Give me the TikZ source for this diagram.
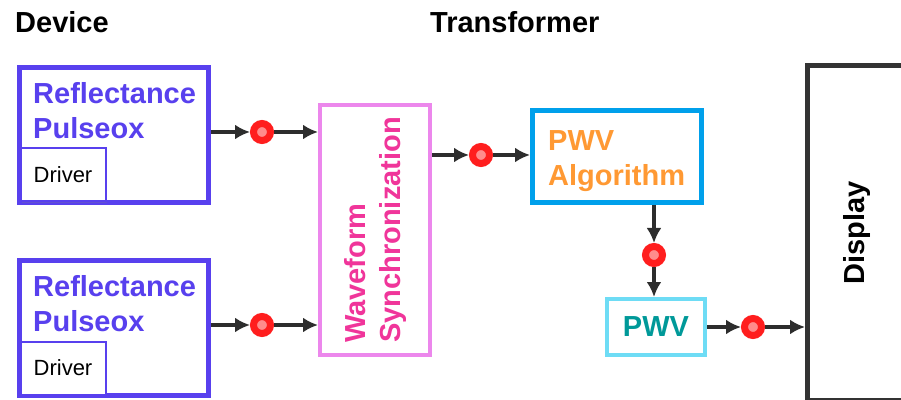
\documentclass[tikz,border=0pt]{standalone}
\usepackage{fontspec}
\setmainfont{Liberation Sans}
\usepackage{tikz}
\usetikzlibrary{arrows.meta,positioning,shadows}
\definecolor{devcol}{RGB}{88,64,238}
\definecolor{synccol}{RGB}{236,135,236}
\definecolor{synctxt}{RGB}{240,53,154}
\definecolor{algcol}{RGB}{0,160,235}
\definecolor{algtxt}{RGB}{255,153,51}
\definecolor{pwvcol}{RGB}{110,220,245}
\definecolor{pwvtxt}{RGB}{0,153,153}
\definecolor{dispcol}{RGB}{51,51,51}
\definecolor{arrcol}{RGB}{45,45,45}
\definecolor{probered}{RGB}{255,30,30}
\definecolor{probepink}{RGB}{255,140,140}

\begin{document}
\begin{tikzpicture}[
  x=1pt,y=1pt,
  every node/.style={font=\fontsize{29}{35}\selectfont\bfseries,inner sep=0pt},
  blk/.style={draw,fill=white,drop shadow={opacity=.25,shadow xshift=1.5pt,shadow yshift=-1.5pt}},
  dev/.style={blk,draw=devcol,line width=5pt,minimum width=189pt,minimum height=135pt},
  drv/.style={blk,draw=devcol,line width=2pt,minimum width=85pt,minimum height=53pt,
    font=\fontsize{22}{26}\selectfont,anchor=south west},
  devtext/.style={text=devcol,align=left,anchor=north west},
  probe/.style={circle,draw=probered,fill=probepink,line width=7pt,minimum size=17pt},
  arr/.style={-{Latex[length=15pt,width=15pt]},line width=3.5pt,draw=arrcol}
]
\clip (0,0) rectangle (901,399);
\node[anchor=base west] (device) at (15,366) {Device};
\node[anchor=base west] (transformer) at (430,366) {Transformer};
\node[dev] (pulse1) at (114,264) {};
\node[drv] (drv1) at ([shift={(2.5pt,2.5pt)}]pulse1.south west) {Driver};
\node[devtext] (refl1) at (33,317) {Reflectance\\Pulseox};
\node[dev] (pulse2) at (114,71) {};
\node[drv] (drv2) at ([shift={(2.5pt,2.5pt)}]pulse2.south west) {Driver};
\node[devtext] (refl2) at (33,124) {Reflectance\\Pulseox};
\node[blk,draw=synccol,line width=4pt,minimum width=110pt,minimum height=250pt] (sync) at (375,169) {};
\node[rotate=90,align=left,text=synctxt] (synctext) at (sync) {Waveform\\Synchronization};
\node[blk,draw=algcol,line width=5pt,minimum width=169pt,minimum height=92pt] (alg) at (617,242.5) {};
\node[text=algtxt,align=left,anchor=north west] (algtext) at (548,269) {PWV\\Algorithm};
\node[blk,draw=pwvcol,line width=4pt,minimum width=98pt,minimum height=56pt,text=pwvtxt] (pwv) at (656,72) {PWV};
\node[blk,draw=dispcol,line width=5pt,minimum width=98pt,minimum height=335pt] (disp) at (856.5,166) {};
\node[rotate=90] (disptext) at (disp) {Display};
\node[probe] (dot1) at (262,267) {};
\node[probe] (dot2) at (262,74) {};
\node[probe] (dot3) at (481,244) {};
\node[probe] (dot4) at (654,144) {};
\node[probe] (dot5) at (753,72) {};
\draw[arr] (pulse1.east |- dot1)--(dot1);
\draw[arr] (dot1)--(sync.west |- dot1);
\draw[arr] (pulse2.east |- dot2)--(dot2);
\draw[arr] (dot2)--(sync.west |- dot2);
\draw[arr] (sync.east |- dot3)--(dot3);
\draw[arr] (dot3)--(alg.west |- dot3);
\draw[arr] (alg.south -| dot4)--(dot4);
\draw[arr] (dot4)--(pwv.north -| dot4);
\draw[arr] (pwv.east |- dot5)--(dot5);
\draw[arr] (dot5)--(disp.west |- dot5);
\end{tikzpicture}
\end{document}
